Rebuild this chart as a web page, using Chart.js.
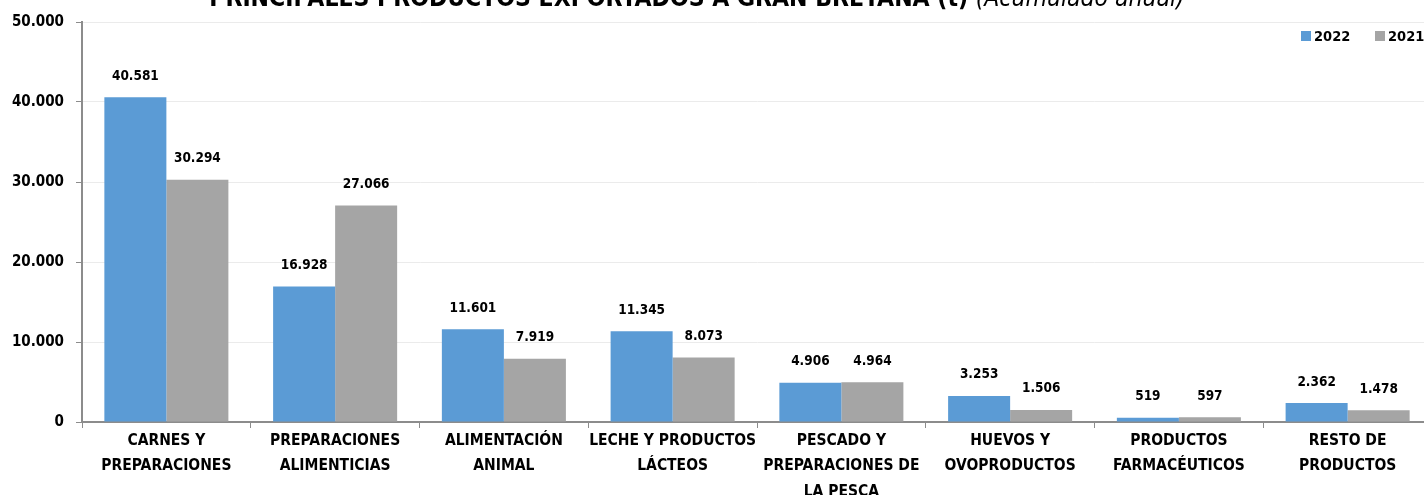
<!DOCTYPE html>
<html>
<head>
<meta charset="utf-8">
<script src="https://cdn.jsdelivr.net/npm/chart.js@4/dist/chart.umd.min.js"></script>
<style>
  html, body { margin: 0; padding: 0; background: #fff; overflow: hidden; }
  #wrap { position: relative; width: 1432px; height: 495px; }
</style>
</head>
<body>
<div id="wrap"><canvas id="chart"></canvas></div>
<script>
const categories = [
    ['CARNES Y', 'PREPARACIONES'],
    ['PREPARACIONES', 'ALIMENTICIAS'],
    ['ALIMENTACIÓN', 'ANIMAL'],
    ['LECHE Y PRODUCTOS', 'LÁCTEOS'],
    ['PESCADO Y', 'PREPARACIONES DE', 'LA PESCA'],
    ['HUEVOS Y', 'OVOPRODUCTOS'],
    ['PRODUCTOS', 'FARMACÉUTICOS'],
    ['RESTO DE', 'PRODUCTOS']
];
const values2022 = [40581, 16928, 11601, 11345, 4906, 3253, 519, 2362];
const values2021 = [30294, 27066, 7919, 8073, 4964, 1506, 597, 1478];
const yTicks = [0, 10000, 20000, 30000, 40000, 50000];

const FONT = "'Liberation Sans Narrow', 'DejaVu Sans Condensed', Arial, sans-serif";

// formato con punto de miles
function fmt(v) {
    return String(Math.round(v)).replace(/\B(?=(\d{3})+(?!\d))/g, '.');
}

// etiquetas encima de cada barra
const valueLabels = {
    id: 'valueLabels',
    afterDatasetsDraw(chart) {
        const ctx = chart.ctx;
        ctx.save();
        ctx.font = "bold 13.5px " + FONT;
        ctx.fillStyle = '#000';
        ctx.textAlign = 'center';
        ctx.textBaseline = 'middle';
        chart.data.datasets.forEach((ds, i) => {
            chart.getDatasetMeta(i).data.forEach((bar, j) => {
                ctx.fillText(fmt(ds.data[j]), bar.x, bar.y - 21);
            });
        });
        ctx.restore();
    }
};

// título (cortado arriba) y leyenda
const extras = {
    id: 'extras',
    afterDraw(chart) {
        const ctx = chart.ctx;
        ctx.save();
        ctx.textBaseline = 'alphabetic';
        const boldTxt = 'PRINCIPALES PRODUCTOS EXPORTADOS A GRAN BRETAÑA (t) ';
        const itTxt = '(Acumulado anual)';
        ctx.font = "bold 24.5px " + FONT;
        const w1 = ctx.measureText(boldTxt).width;
        ctx.font = "italic 24.5px " + FONT;
        const w2 = ctx.measureText(itTxt).width;
        let x = 697 - (w1 + w2) / 2;
        ctx.fillStyle = '#000';
        ctx.textAlign = 'left';
        ctx.font = "bold 24.5px " + FONT;
        ctx.fillText(boldTxt, x, 6);
        ctx.font = "italic 24.5px " + FONT;
        ctx.fillText(itTxt, x + w1, 6);

        // leyenda
        ctx.font = "bold 14.5px " + FONT;
        ctx.textBaseline = 'middle';
        const items = [['2022', '#5B9BD5', 1301], ['2021', '#A5A5A5', 1375]];
        items.forEach(([t, c, lx]) => {
            ctx.fillStyle = c;
            ctx.fillRect(lx, 31, 10, 10);
            ctx.fillStyle = '#000';
            ctx.fillText(t, lx + 13, 37);
        });
        ctx.restore();
    }
};

new Chart(document.getElementById('chart'), {
    type: 'bar',
    data: {
        labels: categories,
        datasets: [
            { label: '2022', data: values2022, backgroundColor: '#5B9BD5', borderWidth: 0 },
            { label: '2021', data: values2021, backgroundColor: '#A5A5A5', borderWidth: 0 }
        ]
    },
    options: {
        responsive: true,
        maintainAspectRatio: false,
        animation: false,
        layout: { padding: { top: 22, right: 0, bottom: 0, left: 0 } },
        datasets: { bar: { categoryPercentage: 0.735, barPercentage: 1 } },
        plugins: {
            legend: { display: false },
            tooltip: { enabled: false }
        },
        scales: {
            x: {
                afterFit(axis) { axis.height = 73; },
                grid: { display: true, offset: true, drawOnChartArea: false, tickLength: 6, color: '#8c8c8c', lineWidth: 1 },
                border: { color: '#8c8c8c', width: 2 },
                ticks: {
                    color: '#000',
                    font: { family: FONT, size: 15.5, weight: 'bold', lineHeight: 1.65 },
                    padding: 0,
                    maxRotation: 0,
                    autoSkip: false
                }
            },
            y: {
                min: 0,
                max: 50000,
                afterFit(axis) { axis.width = 82; },
                afterBuildTicks(axis) { axis.ticks = yTicks.map(v => ({ value: v })); },
                grid: { color: '#ebebeb', tickColor: '#8c8c8c', tickLength: 6, lineWidth: 1 },
                border: { color: '#8c8c8c', width: 2 },
                ticks: {
                    color: '#000',
                    font: { family: FONT, size: 15, weight: 'bold' },
                    padding: 12,
                    callback: v => fmt(v)
                }
            }
        }
    },
    plugins: [valueLabels, extras]
});
</script>
</body>
</html>
